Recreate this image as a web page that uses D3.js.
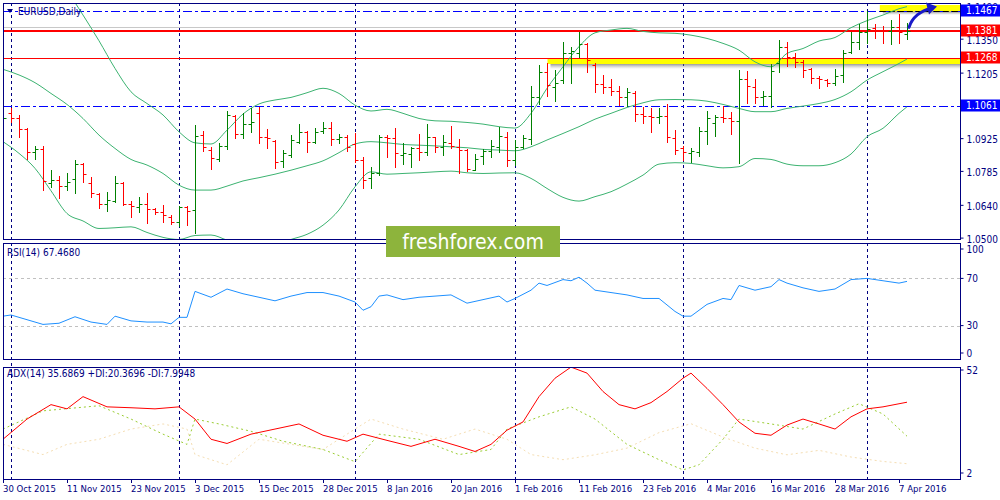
<!DOCTYPE html>
<html><head><meta charset="utf-8">
<script src="https://cdn.jsdelivr.net/npm/d3@7"></script>
<style>
body{margin:0;background:#fff}
svg{display:block}
text{font-family:Tahoma,"DejaVu Sans Condensed","Liberation Sans",sans-serif}
</style>
</head><body>
<svg id="c" width="1000" height="500"></svg>
<script>
// ---------------- DATA ----------------
const symbolTitle = "EURUSD,Daily";
const dateTickBars = [0,8,16,24,32,40,48,56,64,72,80,88,96,104,112];
const dateTickLabels = ["30 Oct 2015","11 Nov 2015","23 Nov 2015","3 Dec 2015","15 Dec 2015","28 Dec 2015","8 Jan 2016","20 Jan 2016","1 Feb 2016","11 Feb 2016","23 Feb 2016","4 Mar 2016","16 Mar 2016","28 Mar 2016","7 Apr 2016"];
const periodSeparatorBars = [1,22,44,64,85,108];

const barOpen  = [1.0988,1.1031,1.1009,1.0964,1.0864,1.0878,1.0734,1.0746,1.0722,1.0749,1.0814,1.0734,1.0686,1.0643,1.0657,1.0734,1.0645,1.0629,1.0643,1.0622,1.0610,1.0589,1.0566,1.0632,1.0616,1.0938,1.0874,1.0837,1.0893,1.1021,1.0941,1.0985,1.1034,1.0930,1.0912,1.0827,1.0851,1.0910,1.0952,1.0907,1.0955,1.0967,1.0920,1.0931,1.0900,1.0831,1.0753,1.0774,1.0931,1.0927,1.0855,1.0856,1.0881,1.0864,1.0928,1.0888,1.0903,1.0888,1.0874,1.0790,1.0850,1.0871,1.0888,1.0931,1.0831,1.0888,1.0921,1.1102,1.1209,1.1142,1.1173,1.1287,1.1287,1.1326,1.1237,1.1155,1.1145,1.1128,1.1102,1.1116,1.1028,1.1019,1.1014,1.1019,1.0924,1.0885,1.0863,1.0867,1.0957,1.0988,1.1016,1.1009,1.0999,1.1176,1.1142,1.1102,1.1105,1.1244,1.1316,1.1270,1.1252,1.1219,1.1180,1.1173,1.1159,1.1195,1.1294,1.1337,1.1380,1.1394,1.1387,1.1384,1.1398,1.1372];
const barHigh  = [1.1069,1.1052,1.1026,1.0967,1.0893,1.0893,1.0789,1.0763,1.0774,1.0831,1.0817,1.0760,1.0689,1.0693,1.0763,1.0737,1.0656,1.0672,1.0689,1.0626,1.0639,1.0596,1.0636,1.0635,1.0981,1.0955,1.0888,1.0903,1.1041,1.1024,1.1031,1.1052,1.1059,1.0964,1.0915,1.0874,1.0938,1.0985,1.0955,1.0969,1.0992,1.0992,1.0941,1.0938,1.0948,1.0846,1.0803,1.0938,1.0938,1.0969,1.0903,1.0888,1.0942,1.0985,1.0931,1.0938,1.0977,1.0920,1.0877,1.0857,1.0877,1.0917,1.0974,1.0952,1.0917,1.0938,1.1148,1.1237,1.1247,1.1216,1.1336,1.1316,1.1380,1.1330,1.1247,1.1195,1.1176,1.1148,1.1138,1.1128,1.1056,1.1052,1.1052,1.1069,1.0959,1.0891,1.0881,1.0974,1.1041,1.1026,1.1062,1.1035,1.1216,1.1212,1.1177,1.1126,1.1240,1.1344,1.1337,1.1287,1.1259,1.1226,1.1190,1.1177,1.1219,1.1301,1.1377,1.1412,1.1469,1.1411,1.1404,1.1430,1.1454,1.1415];
const barLow   = [1.0959,1.0995,1.0931,1.0838,1.0834,1.0703,1.0717,1.0670,1.0703,1.0689,1.0739,1.0672,1.0628,1.0615,1.0653,1.0639,1.0589,1.0608,1.0563,1.0599,1.0568,1.0556,1.0549,1.0552,1.0521,1.0871,1.0793,1.0827,1.0877,1.0924,1.0924,1.0952,1.0903,1.0885,1.0799,1.0803,1.0846,1.0903,1.0867,1.0903,1.0945,1.0895,1.0903,1.0871,1.0824,1.0710,1.0713,1.0767,1.0846,1.0800,1.0814,1.0803,1.0831,1.0853,1.0867,1.0853,1.0881,1.0777,1.0786,1.0789,1.0814,1.0846,1.0867,1.0807,1.0810,1.0885,1.0900,1.1073,1.1106,1.1085,1.1159,1.1159,1.1273,1.1209,1.1123,1.1119,1.1109,1.1066,1.1062,1.0998,1.0991,1.0952,1.0988,1.0910,1.0857,1.0831,1.0823,1.0850,1.0900,1.0934,1.0992,1.0942,1.0820,1.1076,1.1076,1.1066,1.1056,1.1206,1.1234,1.1230,1.1187,1.1159,1.1140,1.1148,1.1152,1.1166,1.1287,1.1308,1.1333,1.1354,1.1333,1.1326,1.1333,1.1347];
const barClose = [1.1009,1.1009,1.0964,1.0864,1.0877,1.0742,1.0746,1.0722,1.0739,1.0814,1.0771,1.0689,1.0643,1.0660,1.0734,1.0645,1.0635,1.0643,1.0622,1.0610,1.0596,1.0568,1.0632,1.0613,1.0935,1.0888,1.0840,1.0891,1.1026,1.0941,1.0984,1.0994,1.0930,1.0924,1.0824,1.0860,1.0917,1.0952,1.0910,1.0952,1.0967,1.0921,1.0931,1.0888,1.0831,1.0746,1.0774,1.0931,1.0924,1.0860,1.0862,1.0881,1.0864,1.0928,1.0888,1.0910,1.0891,1.0874,1.0791,1.0838,1.0870,1.0893,1.0934,1.0831,1.0888,1.0924,1.1102,1.1209,1.1152,1.1162,1.1290,1.1299,1.1326,1.1259,1.1155,1.1142,1.1128,1.1102,1.1123,1.1028,1.1019,1.1014,1.1019,1.0928,1.0874,1.0867,1.0871,1.0955,1.1009,1.1016,1.1009,1.0998,1.1176,1.1148,1.1102,1.1105,1.1213,1.1316,1.1270,1.1252,1.1216,1.1180,1.1176,1.1162,1.1190,1.1290,1.1337,1.1380,1.1391,1.1387,1.1384,1.1398,1.1377,1.1381];

// Bollinger Bands (20) read at these bars
const bbIdx = [0,2,4,6,8,10,12,14,16,18,20,22,24,26,28,30,32,34,36,38,40,42,44,46,48,50,52,54,56,58,60,62,64,66,68,70,72,74,76,78,80,82,84,86,88,90,92,94,96,98,100,102,104,106,108,110,112,113];
const bbUpper = [null,null,null,null,1.1558,1.1451,1.1341,1.1223,1.1123,1.1073,1.1024,1.0952,1.0905,1.0900,1.0959,1.1028,1.1071,1.1088,1.1099,1.1119,1.1138,1.1116,1.1066,1.1041,1.1048,1.1031,1.1009,1.0999,1.0997,1.0992,1.0985,1.0974,1.0968,1.1031,1.1138,1.1230,1.1316,1.1375,1.1387,1.1394,1.1381,1.1375,1.1373,1.1365,1.1351,1.1330,1.1301,1.1251,1.1230,1.1287,1.1308,1.1340,1.1355,1.1397,1.1427,1.1451,1.1478,1.1487];
const bbMiddle = [1.1219,1.1195,1.1162,1.1116,1.1069,1.1009,1.0938,1.0881,1.0834,1.0810,1.0774,1.0724,1.0703,1.0703,1.0720,1.0742,1.0756,1.0771,1.0788,1.0807,1.0828,1.0863,1.0900,1.0910,1.0905,1.0898,1.0895,1.0892,1.0888,1.0884,1.0877,1.0874,1.0871,1.0888,1.0917,1.0945,1.0974,1.1006,1.1031,1.1056,1.1076,1.1089,1.1090,1.1089,1.1083,1.1069,1.1052,1.1038,1.1038,1.1052,1.1062,1.1073,1.1090,1.1123,1.1173,1.1209,1.1244,1.1263];
const bbLower = [1.0910,1.0860,1.0796,1.0700,1.0603,1.0571,1.0539,1.0542,1.0546,1.0522,1.0501,1.0492,1.0509,1.0511,1.0489,1.0468,1.0454,1.0468,1.0492,1.0514,1.0553,1.0618,1.0717,1.0781,1.0771,1.0774,1.0777,1.0781,1.0784,1.0777,1.0774,1.0776,1.0777,1.0753,1.0710,1.0672,1.0656,1.0675,1.0696,1.0729,1.0767,1.0814,1.0820,1.0817,1.0807,1.0798,1.0803,1.0838,1.0834,1.0814,1.0807,1.0807,1.0820,1.0857,1.0931,1.0967,1.1031,1.1059];

// horizontal levels
const levelResistance = 1.1467;
const levelBid = 1.1381;
const levelAsk = 1.1400;
const levelZone = 1.1268;
const levelSupport = 1.1061;
const priceTicks = [1.0500,1.0640,1.0785,1.0925,1.1065,1.1205,1.1350,1.1490];

// RSI(14)
const rsiIdx = [0,1,3,5,7,9,11,13,14,16,18,20,21,22,23,24,26,28,30,32,34,36,38,40,42,44,45,46,47,48,50,52,54,56,58,60,62,63,64,66,67,68,70,71,72,73,74,76,78,80,82,84,85,86,88,90,91,92,94,96,97,98,100,102,104,105,106,108,110,112,113];
const rsiVal = [38,39,35,31,32,37.5,33,31,38,34,33,33,31.5,37,37,59,54,61,57,54,51,55,58,58,55,50,43,46,55,56,52,54,55,56,49,52,55,50,53,60,66,64,69,68,71,66,60,58,56,53,53,42,38,38,48,53,52,64,60,63,69,66,62,59,61,65,69,70,68,66,67.468];
const rsiTicks = [100,70,30,0];

// ADX(14)
const adxIdx = [0,3,6,8,10,13,16,19,22,24,26,28,31,34,37,40,43,45,48,51,54,57,59,61,63,65,67,69,71,73,75,77,79,81,83,85,86,88,90,92,94,96,98,100,102,104,106,108,110,113];
const adxVal = [19,28.1,34.6,32.7,38.2,33.6,33.2,32.7,33.6,28.1,19,17.1,21.3,23.6,25.9,20.8,18.1,21.3,18.5,15.8,19,15.8,13.5,16.7,23.1,26.8,38.2,46.5,51.5,48.8,40.5,34.6,32.7,35.5,40.5,46.5,48.8,41.9,34.6,26.8,21.7,20.8,25.4,28.1,25.9,23.6,29.1,32.7,33.6,35.6869];
const pdiIdx = [0,5,12,16,20,23,24,27,31,35,40,44,47,52,57,61,63,67,71,74,78,82,85,87,90,92,96,100,104,107,110,113];
const pdiVal = [23.6,31.8,34.1,28.1,21.3,16.7,28.1,25.9,22.6,18.1,14.4,8.9,21.3,19,12.1,14.4,23.6,29.1,33.6,28.1,16.7,9.8,5.2,7.5,19,28.1,25.9,23.6,30.4,35,30.4,20.3696];
const mdiIdx = [0,5,8,12,16,20,23,24,28,32,36,40,44,46,50,55,59,63,66,70,74,78,82,86,90,94,98,102,106,110,113];
const mdiVal = [16.7,12.1,16.7,19,23.6,25.9,23.6,12.1,7.5,19,16.7,14.4,23.6,28.1,23.6,19,23.6,19,12.1,9.8,12,15,22,26,20,15,12,14,11,9,7.9948];
const adxTicks = [52,2];

// ---------------- DRAW ----------------
const navy = "#000080";
const svg = d3.select("#c");
const L = 3, R = 960;
const main = {top:3, bottom:239}, rsiP = {top:243, bottom:359}, adxP = {top:367, bottom:479};

const x = d3.scaleLinear().domain([0,113]).range([3,907]);
const yP = d3.scaleLinear().domain([1.05,1.1467]).range([237.6,11.3]);
const yR = d3.scaleLinear().domain([0,100]).range([361,243]);
const yA = d3.scaleLinear().domain([2,52]).range([477,366]);
const cx = v => Math.round(v)+0.5;

const defs = svg.append("defs");
[["clipMain",main],["clipRsi",rsiP],["clipAdx",adxP]].forEach(([id,p])=>{
  defs.append("clipPath").attr("id",id).append("rect")
    .attr("x",L).attr("y",p.top).attr("width",R-L).attr("height",p.bottom-p.top);
});
const shadow = defs.append("linearGradient").attr("id","shadowGrad").attr("x1",0).attr("x2",0).attr("y1",0).attr("y2",1);
shadow.append("stop").attr("offset","0%").attr("stop-color","#555").attr("stop-opacity",0.75);
shadow.append("stop").attr("offset","100%").attr("stop-color","#999").attr("stop-opacity",0);

// period separators
svg.append("g").selectAll("line").data(periodSeparatorBars).join("line")
  .attr("x1",d=>cx(x(d))).attr("x2",d=>cx(x(d))).attr("y1",main.top).attr("y2",adxP.bottom)
  .attr("stroke",navy).attr("stroke-width",1).attr("stroke-dasharray","3,3");

// ---- main panel ----
const gm = svg.append("g").attr("clip-path","url(#clipMain)");

// yellow zones with shadow
const zoneX = x(68)+0.5;
gm.append("rect").attr("x",zoneX+3).attr("y",Math.round(yP(levelZone))+5).attr("width",R-zoneX).attr("height",6).attr("fill","url(#shadowGrad)");
gm.append("rect").attr("x",zoneX).attr("y",Math.round(yP(levelZone))).attr("width",R-zoneX).attr("height",6).attr("fill","#ffff00");
const topX = x(109.6);
gm.append("rect").attr("x",topX+3).attr("y",Math.round(yP(levelResistance))).attr("width",R-topX).attr("height",4).attr("fill","url(#shadowGrad)");
gm.append("rect").attr("x",topX).attr("y",Math.round(yP(levelResistance))-6).attr("width",R-topX).attr("height",6.5).attr("fill","#ffff00");

// level lines
gm.append("line").attr("x1",L).attr("x2",R).attr("y1",cx(yP(levelAsk))).attr("y2",cx(yP(levelAsk))).attr("stroke","#c8c8c8");
gm.append("line").attr("x1",L).attr("x2",R).attr("y1",cx(yP(levelResistance))).attr("y2",cx(yP(levelResistance))).attr("stroke","#0000ff").attr("stroke-dasharray","9,3,3,3");
gm.append("line").attr("x1",topX).attr("x2",R).attr("y1",cx(yP(levelResistance))).attr("y2",cx(yP(levelResistance))).attr("stroke","#000").attr("stroke-dasharray","6,3");
gm.append("line").attr("x1",L).attr("x2",R).attr("y1",cx(yP(levelSupport))).attr("y2",cx(yP(levelSupport))).attr("stroke","#0000ff").attr("stroke-dasharray","9,3,3,3");
gm.append("line").attr("x1",L).attr("x2",R).attr("y1",cx(yP(levelZone))).attr("y2",cx(yP(levelZone))).attr("stroke","#ff0000");
gm.append("line").attr("x1",L).attr("x2",R).attr("y1",Math.round(yP(levelBid))).attr("y2",Math.round(yP(levelBid))).attr("stroke","#ff0000").attr("stroke-width",2);

// bollinger bands
const bbLine = arr => d3.line().defined(d=>arr[d]!=null).x(d=>x(bbIdx[d])).y(d=>yP(arr[d])).curve(d3.curveMonotoneX)(d3.range(bbIdx.length));
[bbUpper,bbMiddle,bbLower].forEach(arr=>{
  gm.append("path").attr("d",bbLine(arr)).attr("fill","none").attr("stroke","#3cb371").attr("stroke-width",1);
});

// bars
const bars = gm.append("g").selectAll("g").data(d3.range(barOpen.length)).join("g")
  .attr("stroke",i=>barClose[i]>=barOpen[i]?"#008000":"#ff0000").attr("stroke-width",1);
bars.append("line").attr("x1",i=>cx(x(i))).attr("x2",i=>cx(x(i))).attr("y1",i=>Math.round(yP(barHigh[i]))).attr("y2",i=>Math.round(yP(barLow[i]))+1);
bars.append("line").attr("x1",i=>cx(x(i))-3).attr("x2",i=>cx(x(i))).attr("y1",i=>cx(yP(barOpen[i]))).attr("y2",i=>cx(yP(barOpen[i])));
bars.append("line").attr("x1",i=>cx(x(i))).attr("x2",i=>cx(x(i))+3).attr("y1",i=>cx(yP(barClose[i]))).attr("y2",i=>cx(yP(barClose[i])));

// ---- RSI panel ----
const gr = svg.append("g").attr("clip-path","url(#clipRsi)");
[70,30].forEach(v=>gr.append("line").attr("x1",L).attr("x2",R).attr("y1",cx(yR(v))).attr("y2",cx(yR(v))).attr("stroke","#c0c0c0").attr("stroke-dasharray","3,3"));
gr.append("path").attr("d",d3.line().x((d,i)=>x(rsiIdx[i])).y(d=>yR(d))(rsiVal)).attr("fill","none").attr("stroke","#1e90ff").attr("stroke-width",1);

// ---- ADX panel ----
const ga = svg.append("g").attr("clip-path","url(#clipAdx)");
ga.append("path").attr("d",d3.line().x((d,i)=>x(mdiIdx[i])).y(d=>yA(d))(mdiVal)).attr("fill","none").attr("stroke","#f5deb3").attr("stroke-width",1).attr("stroke-dasharray","2,3");
ga.append("path").attr("d",d3.line().x((d,i)=>x(pdiIdx[i])).y(d=>yA(d))(pdiVal)).attr("fill","none").attr("stroke","#9acd32").attr("stroke-width",1).attr("stroke-dasharray","2,3");
ga.append("path").attr("d",d3.line().x((d,i)=>x(adxIdx[i])).y(d=>yA(d))(adxVal)).attr("fill","none").attr("stroke","#ff0000").attr("stroke-width",1);

// frames
[main,rsiP,adxP].forEach(p=>{
  svg.append("rect").attr("x",L+0.5).attr("y",p.top+0.5).attr("width",R-L).attr("height",p.bottom-p.top)
    .attr("fill","none").attr("stroke",navy).attr("stroke-width",1);
});

// right axes
const axStyle = g => { g.select(".domain").remove(); g.selectAll("line").attr("stroke",navy); g.selectAll("text").attr("fill",navy).attr("font-size","10px").attr("x",6).attr("dy","0.45em"); };
svg.append("g").attr("transform",`translate(${R+0.5},0)`)
  .call(d3.axisRight(yP).tickValues(priceTicks).tickFormat(d3.format(".4f")).tickSize(3)).call(axStyle);

const clampY = (v,lo,hi)=>Math.max(lo,Math.min(hi,v));
const rsiAxis = svg.append("g").attr("transform",`translate(${R+0.5},0)`);
rsiAxis.selectAll("g").data(rsiTicks).join("g").attr("transform",d=>`translate(0,${clampY(yR(d),249,353)})`).each(function(d){
  const g=d3.select(this);
  g.append("line").attr("x2",3).attr("stroke",navy);
  g.append("text").attr("x",6).attr("dy","0.35em").attr("fill",navy).attr("font-size","10px").text(d);
});
const adxAxis = svg.append("g").attr("transform",`translate(${R+0.5},0)`);
adxAxis.selectAll("g").data(adxTicks).join("g").attr("transform",d=>`translate(0,${clampY(yA(d),370,473)})`).each(function(d){
  const g=d3.select(this);
  g.append("line").attr("x2",3).attr("stroke",navy);
  g.append("text").attr("x",6).attr("dy","0.35em").attr("fill",navy).attr("font-size","10px").text(d);
});

// bottom date axis
const xa = svg.append("g");
xa.selectAll("line").data(dateTickBars).join("line").attr("x1",d=>cx(x(d))).attr("x2",d=>cx(x(d))).attr("y1",adxP.bottom).attr("y2",adxP.bottom+4).attr("stroke",navy);
xa.selectAll("text").data(dateTickBars).join("text").attr("x",d=>x(d)).attr("y",492).attr("fill",navy).attr("font-size","9.5px").text((d,i)=>dateTickLabels[i]);

// price label boxes
const boxes = [[levelResistance,"#0000ff"],[levelBid,"#ff0000"],[levelZone,"#ff0000"],[levelSupport,"#0000ff"]];
boxes.forEach(([v,c])=>{
  const yy = yP(v);
  svg.append("rect").attr("x",961).attr("y",Math.round(yy)-6.5).attr("width",39).attr("height",12).attr("fill",c);
  svg.append("text").attr("x",966).attr("y",yy-0.5).attr("dy","0.35em").attr("fill","#fff").attr("font-size","10px").text(d3.format(".4f")(v));
});

// indicator labels
svg.append("text").attr("x",7).attr("y",rsiP.top+9).attr("dy","0.35em").attr("fill",navy).attr("font-size","10px").text("RSI(14) " + d3.format(".4f")(rsiVal[rsiVal.length-1]));
svg.append("text").attr("x",7).attr("y",adxP.top+6).attr("dy","0.35em").attr("fill",navy).attr("font-size","10px")
  .text(`ADX(14) ${d3.format(".4f")(adxVal[adxVal.length-1])} +DI:${d3.format(".4f")(pdiVal[pdiVal.length-1])} -DI:${d3.format(".4f")(mdiVal[mdiVal.length-1])}`);

// title
svg.append("path").attr("d","M7,9 L13,9 L10,13 Z").attr("fill",navy);
svg.append("text").attr("x",18).attr("y",11.5).attr("dy","0.35em").attr("fill",navy).attr("font-size","10px").text(symbolTitle);

// arrow
const ax0 = x(113)+2, ay0 = yP(levelBid)-4;
svg.append("path").attr("d",`M${ax0},${ay0} C${ax0+3},${ay0-10} ${ax0+12},${ay0-17} ${ax0+22},${ay0-19}`)
  .attr("fill","none").attr("stroke","#1a1ac8").attr("stroke-width",3).attr("stroke-linecap","round");
svg.append("path").attr("d",`M${ax0+28},${ay0-21} L${ax0+17},${ay0-25} L${ax0+20},${ay0-13} Z`).attr("fill","#1a1ac8");

// logo
svg.append("rect").attr("x",386).attr("y",226).attr("width",174).attr("height",31).attr("fill","#8db43c");
svg.append("text").attr("x",473).attr("y",249).attr("text-anchor","middle").attr("fill","#fff")
  .attr("font-family","'Open Sans',sans-serif").attr("font-size","21px").text("freshforex.com");
</script>
</body></html>
